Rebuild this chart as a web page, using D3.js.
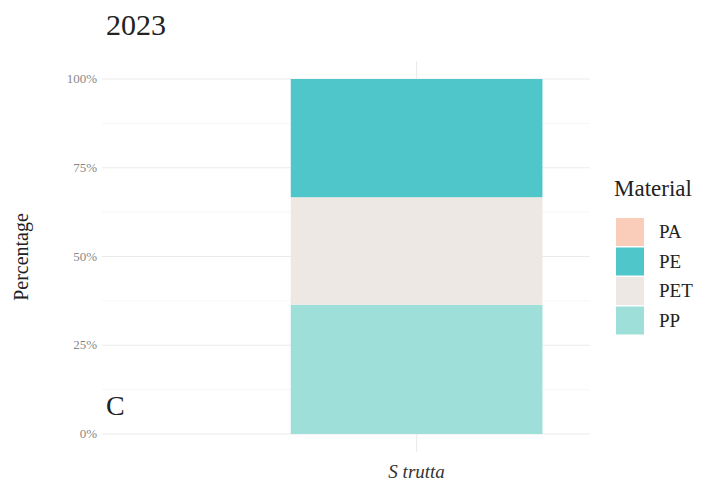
<!DOCTYPE html>
<html><head><meta charset="utf-8">
<script src="https://cdn.jsdelivr.net/npm/d3@7"></script>
<style>body{margin:0;background:#fff}svg{display:block}text{font-family:"Liberation Serif","Times New Roman",serif}</style>
</head><body>
<svg id="c" width="721" height="485"></svg>
<script>
const title = "2023";
const panelLabel = "C";
const categories = ["S trutta"];
const materials = ["PA","PE","PET","PP"];
const colors = ["#f9cdb9","#4fc6c9","#ede8e3","#9fdfd9"];
// percentage per material for S trutta (PA absent)
const values = {PA:[0], PE:[33.3], PET:[30.3], PP:[36.4]};
const yTicks = [0,25,50,75,100];
const yMinor = [12.5,37.5,62.5,87.5];
const stackOrder = ["PP","PET","PE","PA"]; // bottom to top

const svg = d3.select("#c");
const x = d3.scaleLinear().domain([-0.125,1.62]).range([102,590]);
const y = d3.scaleLinear().domain([0,100]).range([434,79]);
const color = d3.scaleOrdinal().domain(materials).range(colors);

// gridlines
svg.append("g").selectAll("line.minor").data(yMinor).join("line")
  .attr("x1",102).attr("x2",590).attr("y1",d=>y(d)).attr("y2",d=>y(d))
  .attr("stroke","#f4f4f4").attr("stroke-width",0.8);
svg.append("g").selectAll("line.major").data(yTicks).join("line")
  .attr("x1",102).attr("x2",590).attr("y1",d=>y(d)).attr("y2",d=>y(d))
  .attr("stroke","#ebebeb").attr("stroke-width",1.1);
svg.append("g").selectAll("line.vx").data(categories).join("line")
  .attr("x1",(d,i)=>x(i+1)).attr("x2",(d,i)=>x(i+1)).attr("y1",79-18).attr("y2",434+18)
  .attr("stroke","#ebebeb").attr("stroke-width",1.1);

// stacked bars
categories.forEach((cat,ci)=>{
  let cum = 0;
  stackOrder.forEach(m=>{
    const v = values[m][ci];
    if (v>0) {
      svg.append("rect")
        .attr("x", x(ci+1-0.45)).attr("width", x(ci+1+0.45)-x(ci+1-0.45))
        .attr("y", y(cum+v)).attr("height", y(cum)-y(cum+v))
        .attr("fill", color(m));
    }
    cum += v;
  });
});

// y axis tick labels
svg.append("g").selectAll("text").data(yTicks).join("text")
  .attr("x",97).attr("y",d=>y(d)+4).attr("text-anchor","end")
  .attr("font-size",13).attr("fill","#888").text(d=>d+"%");

// x tick labels
svg.append("g").selectAll("text").data(categories).join("text")
  .attr("x",(d,i)=>x(i+1)).attr("y",478).attr("text-anchor","middle")
  .attr("font-size",19).attr("font-style","italic").attr("fill","#333").text(d=>d);

// y axis title
svg.append("text").attr("transform","translate(28,257) rotate(-90)")
  .attr("text-anchor","middle").attr("font-size",20).attr("fill","#222").text("Percentage");

// title
svg.append("text").attr("x",106).attr("y",35).attr("font-size",30).attr("fill","#222").text(title);

// panel label
svg.append("text").attr("x",106).attr("y",415).attr("font-size",28).attr("fill","#222").text(panelLabel);

// legend
const lg = svg.append("g");
lg.append("text").attr("x",614).attr("y",196).attr("font-size",23).attr("fill","#222").text("Material");
materials.forEach((m,i)=>{
  lg.append("rect").attr("x",616).attr("y",218+i*29.5).attr("width",28).attr("height",28).attr("fill",color(m));
  lg.append("text").attr("x",659).attr("y",238+i*29.5).attr("font-size",19).attr("fill","#222").text(m);
});
</script>
</body></html>
